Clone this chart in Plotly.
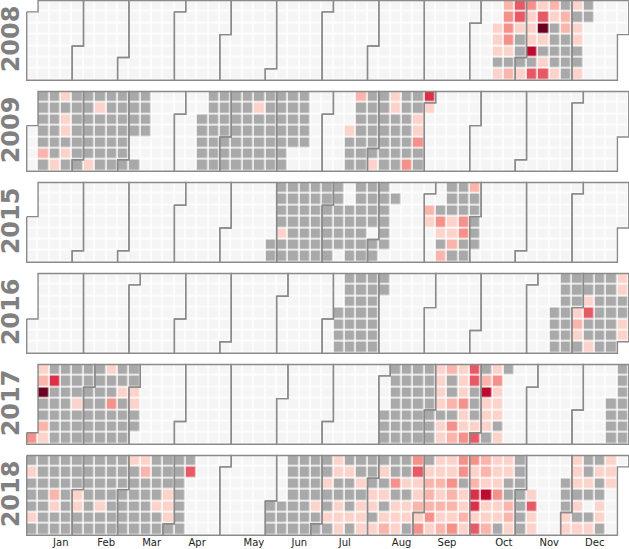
import datetime as dt
import plotly.graph_objects as go

# ---------------- data ----------------
YEARS = [2008, 2009, 2015, 2016, 2017, 2018]
MONTH_LABELS = ["Jan", "Feb", "Mar", "Apr", "May", "Jun",
                "Jul", "Aug", "Sep", "Oct", "Nov", "Dec"]

# Each entry: week column -> 7 chars (Mon..Sun)
# '.' = no data, '0' = zero, '1'..'7' = value level
W2008 = {
    41: "..11101", 42: "2333102", 43: "4410001", 44: "3111604",
    45: "1471014", 46: "2100001", 47: "0220000", 48: "1011001",
    49: "00.....",
}
W2009 = {
    1: "0000020", 2: "0000001", 3: "1011010", 4: "0000000", 5: "0000001",
    6: "0100000", 7: "0000000", 8: "0000000", 9: "0000..0", 10: "0000...",
    15: "..00000", 16: "0000000", 17: "0000000", 18: "0000000", 19: "0000000",
    20: "0100000", 21: "0000000", 22: "0000000", 23: "00000..", 24: "00000..",
    28: "...1000", 29: "2000000", 30: "0000001", 31: "0000000", 32: "1100000",
    33: "0000003", 34: "0011300", 35: "51.....",
}
W2015 = {
    21: ".....00", 22: "0000100", 23: "0000000", 24: "0000000", 25: "0000000",
    26: "0000000", 27: "000000.", 28: "..00000", 29: "0000000", 30: "0000.00",
    31: "000000.", 32: ".0.....",
    35: "..21...", 36: "..03102", 37: "0001120", 38: "0003300", 39: "200000.",
}
W2016 = {
    27: "...0000", 28: "0000000", 29: "0000000", 30: "0000000", 31: "00.....",
    46: "...0000", 47: "0000000", 48: "0001210", 49: "0014001", 50: "0000000",
    51: "0000000", 52: "110011.",
}
W2017 = {
    0: "......3", 1: "1270021", 2: "0500000", 3: "0000000", 4: "0001000",
    5: "0000000", 6: "0000000", 7: "1003000", 8: "0010000", 9: "001100.",
    31: "....000", 32: "0000000", 33: "0000000", 34: "0000000", 35: "0000000",
    36: "1111011", 37: "2002032", 38: "1113113", 39: "4400014", 40: "0261110",
    41: "1311101", 42: "0......",
    51: "...0000", 52: "0000000",
}
W2018 = {
    0: "0100010", 1: "0000000", 2: "0002100", 3: "0000000", 4: "0001100",
    5: "0000000", 6: "0000100", 7: "0000000", 8: "0000000", 9: "1000000",
    10: "1200000", 11: "0000100", 12: "0001110", 13: "0000000", 14: "04.....",
    21: "....000", 22: "....000", 23: "0000000", 24: "0000000", 25: "0000100",
    26: "0010010", 27: "1100111", 28: "0100010", 29: "0010111", 30: "0001101",
    31: "0101012", 32: "0030111", 33: "0010110", 34: "3411213", 35: "0122231",
    36: "1121212", 37: "1132213", 38: "3301121", 39: "3125514", 40: "2216112",
    41: "1113110", 42: "1100221", 43: "0000000", 44: "...1411",
    47: "..00011", 48: "1110101", 49: "0010.01", 50: "0100110", 51: "111....",
}
WEEKS = {2008: W2008, 2009: W2009, 2015: W2015,
         2016: W2016, 2017: W2017, 2018: W2018}

# colours for: no data, zero, level 1..7
NODATA_COLOR = "#f5f5f5"
ZERO_COLOR = "#a9a9a9"
LEVEL_COLORS = ["#fcd3cb", "#f9b5ab", "#f4918a", "#e65a66",
                "#d93248", "#bf0a30", "#6b0020"]

# ---------------- layout geometry ----------------
FIG_W, FIG_H = 629, 549
ML, MR, MT, MB = 25, 0, 0, 12
PW = FIG_W - ML - MR
PH = FIG_H - MT - MB
GRID_X0 = 26.7          # pixel x of first week column
CW = 11.36              # column width in px
PANEL_TOP0 = 0.5
PANEL_PITCH = 91.0
PANEL_H = 79.7
PAD = 1.6
CH = PANEL_H / 7

all_colors = [NODATA_COLOR, ZERO_COLOR] + LEVEL_COLORS
n = len(all_colors) - 1
colorscale = [[i / n, c] for i, c in enumerate(all_colors)]

fig = go.Figure()
layout_axes = {}
annotations = []

for k, year in enumerate(YEARS):
    jan1 = dt.date(year, 1, 1)
    off = jan1.weekday()
    ndays = (dt.date(year + 1, 1, 1) - jan1).days
    ncols = (ndays - 1 + off) // 7 + 1
    weeks = WEEKS[year]
    z = [[None] * ncols for _ in range(7)]
    for d in range(ndays):
        col, row = divmod(d + off, 7)
        code = weeks.get(col, ".......")[row]
        z[row][col] = -1 if code == "." else int(code)

    sfx = "" if k == 0 else str(k + 1)
    fig.add_trace(go.Heatmap(
        z=z, x=[c + 0.5 for c in range(ncols)], y=[r + 0.5 for r in range(7)],
        xaxis="x" + sfx, yaxis="y" + sfx, zmin=-1, zmax=len(LEVEL_COLORS),
        colorscale=colorscale, showscale=False, xgap=1.5, ygap=1.5,
        hoverongaps=False))

    # month outlines
    xs, ys = [], []
    for m in range(1, 13):
        first = dt.date(year, m, 1)
        nxt = dt.date(year + (m == 12), m % 12 + 1, 1)
        last = nxt - dt.timedelta(days=1)
        c0, r0 = divmod((first - jan1).days + off, 7)
        c1, r1 = divmod((last - jan1).days + off, 7)
        xs += [c0, c0 + 1, c0 + 1, c1 + 1, c1 + 1, c1, c1, c0, c0, None]
        ys += [r0, r0, 0, 0, r1 + 1, r1 + 1, 7, 7, r0, None]
    fig.add_trace(go.Scatter(
        x=xs, y=ys, mode="lines", xaxis="x" + sfx, yaxis="y" + sfx,
        line=dict(color="#8a8a8a", width=1.4), hoverinfo="skip",
        showlegend=False))

    top_px = PANEL_TOP0 + k * PANEL_PITCH
    dom_top = max(0.0, top_px - PAD)
    dom_bot = min(PH, top_px + PANEL_H + PAD)
    yr = [7 + (dom_bot - top_px - PANEL_H) / CH, -(top_px - dom_top) / CH]
    layout_axes["yaxis" + sfx] = dict(
        domain=[1 - dom_bot / PH, 1 - dom_top / PH], range=yr,
        anchor="x" + sfx, showgrid=False, zeroline=False,
        showticklabels=False, ticks="", fixedrange=True)
    xa = dict(domain=[0, 1], range=[(ML - GRID_X0) / CW, (FIG_W - GRID_X0) / CW],
              anchor="y" + sfx, showgrid=False, zeroline=False, ticks="",
              showticklabels=False, fixedrange=True)
    if year == YEARS[-1]:
        tickvals = []
        for m in range(1, 13):
            mid = dt.date(year, m, 15)
            tickvals.append(((mid - jan1).days + off) // 7 + 1)
        xa.update(showticklabels=True, tickvals=tickvals, ticktext=MONTH_LABELS,
                  ticklabelstandoff=-2,
                  tickfont=dict(family="DejaVu Sans", size=10, color="#222222"))
    layout_axes["xaxis" + sfx] = xa

    annotations.append(dict(
        text=str(year), xref="paper", yref="paper",
        x=(10.5 - ML) / PW, y=1 - (top_px + PANEL_H / 2 - 1.5) / PH,
        xanchor="center", yanchor="middle", textangle=-90, showarrow=False,
        font=dict(family="DejaVu Sans", size=24, color="#808080", weight="bold")))

fig.update_layout(
    width=FIG_W, height=FIG_H,
    margin=dict(l=ML, r=MR, t=MT, b=MB, pad=0),
    paper_bgcolor="white", plot_bgcolor="white",
    showlegend=False, annotations=annotations, **layout_axes)

fig.write_html("out.html", config={"displayModeBar": False},
               post_script="document.body.style.margin='0';")
